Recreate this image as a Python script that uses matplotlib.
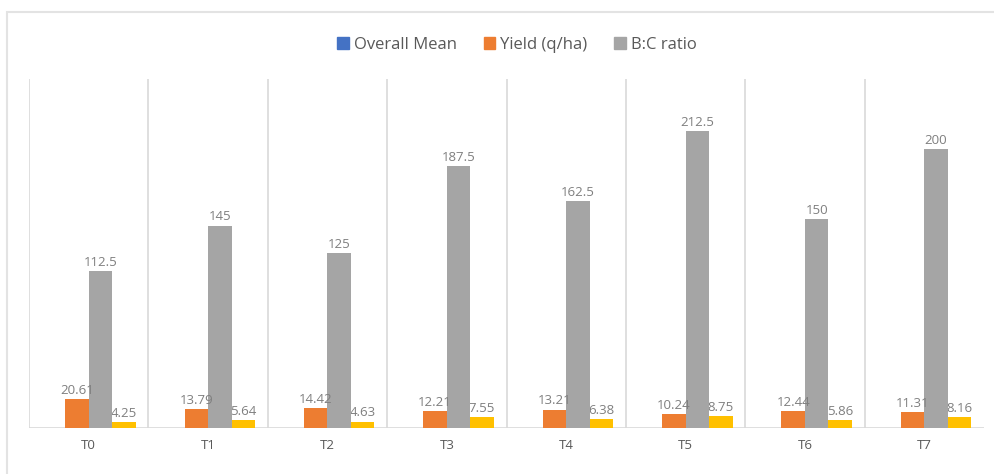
import matplotlib
matplotlib.use('Agg')
import matplotlib.pyplot as plt
from matplotlib.patches import Rectangle, Patch
import numpy as np

treatments = ['T0', 'T1', 'T2', 'T3', 'T4', 'T5', 'T6', 'T7']
yield_qha = [20.61, 13.79, 14.42, 12.21, 13.21, 10.24, 12.44, 11.31]
gray_vals = [112.5, 145, 125, 187.5, 162.5, 212.5, 150, 200]
yellow_vals = [4.25, 5.64, 4.63, 7.55, 6.38, 8.75, 5.86, 8.16]

legend_names = ['Overall Mean', 'Yield (q/ha)', 'B:C ratio']

c_blue = '#4472C4'
c_orange = '#ED7D31'
c_gray = '#A5A5A5'
c_yellow = '#FFC000'
c_grid = '#D9D9D9'
c_text = '#7F7F7F'

plt.rcParams['font.family'] = ['Open Sans', 'DejaVu Sans']

fig = plt.figure(figsize=(9.94, 4.74), dpi=100)
fig.patch.set_facecolor('white')

# chart area border (only top/left are in frame)
fig.patches.append(Rectangle((7 / 994, -0.05), 1.1, 1 - 12 / 474 + 0.05,
                             transform=fig.transFigure, fill=False,
                             edgecolor='#E3E3E3', linewidth=1.5))

ax = fig.add_axes([29 / 994, 46 / 474, (984 - 29) / 994, (428 - 79) / 474])

x = np.arange(len(treatments))
w = 0.197
# four slots per group; the first (Overall Mean) slot stays empty
off = [-1.5 * w, -0.5 * w, 0.5 * w, 1.5 * w]

b_or = ax.bar(x + off[1], yield_qha, w, color=c_orange, zorder=3)
b_gr = ax.bar(x + off[2], gray_vals, w, color=c_gray, zorder=3)
b_ye = ax.bar(x + off[3], yellow_vals, w, color=c_yellow, zorder=3)

def fmt(v):
    return ('%g' % v)

for rect, v in zip(b_or, yield_qha):
    ax.text(rect.get_x() + rect.get_width() / 2, v + 1.5, fmt(v),
            ha='center', va='bottom', fontsize=9.5, color=c_text, zorder=4)
for rect, v in zip(b_gr, gray_vals):
    ax.text(rect.get_x() + rect.get_width() / 2, v + 1.5, fmt(v),
            ha='center', va='bottom', fontsize=9.5, color=c_text, zorder=4)
# yellow labels sit behind the gray bars
for rect, v in zip(b_ye, yellow_vals):
    ax.text(rect.get_x() + rect.get_width() / 2, v + 1.5, fmt(v),
            ha='center', va='bottom', fontsize=9.5, color=c_text, zorder=2)

ax.set_xlim(-0.5, len(treatments) - 0.5)
ax.set_ylim(0, 250)

for k in range(len(treatments)):
    ax.axvline(k - 0.5, color=c_grid, linewidth=1.2, zorder=1)
ax.axhline(0, color=c_grid, linewidth=1.2, zorder=1)

for s in ax.spines.values():
    s.set_visible(False)
ax.set_yticks([])
ax.set_xticks(x)
ax.set_xticklabels(treatments, fontsize=9.5, color='#595959')
ax.tick_params(axis='x', length=0, pad=8)

handles = [Patch(color=c_blue), Patch(color=c_orange), Patch(color=c_gray)]
fig.legend(handles, legend_names, loc='center', bbox_to_anchor=(517 / 994, 1 - 45 / 474),
           ncol=3, frameon=False, fontsize=12, handlelength=0.7, handleheight=0.7,
           handletextpad=0.3, columnspacing=1.6, labelcolor='#595959')

fig.savefig('out.png', dpi=100)
